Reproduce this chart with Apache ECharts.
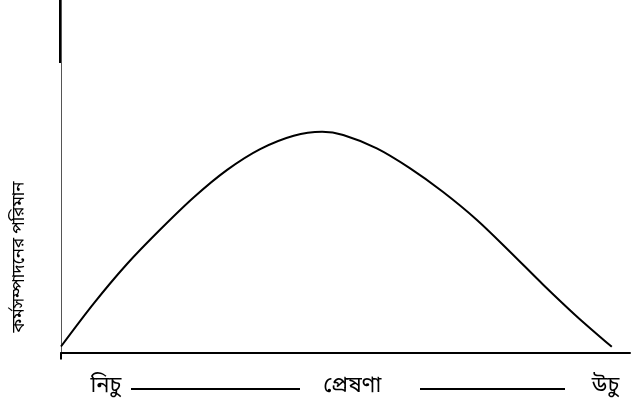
<!DOCTYPE html>
<html>
<head>
<meta charset="utf-8">
<script src="https://cdn.jsdelivr.net/npm/echarts@6/dist/echarts.min.js"></script>
<style>
    html, body { margin: 0; padding: 0; background: #fff; }
    #chart { width: 631px; height: 412px; }
</style>
</head>
<body>
<div id="chart"></div>
<script>
    // প্রেষণা (x) বনাম কর্মসম্পাদনের পরিমান (y)
    const motivation = [0, 5.8, 11.6, 17.4, 23.4, 29.2, 35.0, 40.9, 45.9, 49.6, 55.5, 61.3, 67.1, 73.1, 78.9, 84.7, 90.6, 96.8]
    const performance = [1.7, 14.0, 25.1, 34.8, 44.1, 51.8, 57.7, 61.5, 62.6, 61.7, 57.9, 52.3, 45.6, 37.6, 28.6, 19.3, 10.3, 1.6]
    const xLabelPos = [7.9, 51.2, 95.7]
    const xLabelText = ['নিচু', 'প্রেষণা', 'উচু']
    const yTitle = 'কর্মসম্পাদনের পরিমান'

    const bnFont = '"Noto Sans Bengali", "Lohit Bengali", "Noto Sans", sans-serif'

    let myChart = echarts.init(document.getElementById('chart'))
    myChart.setOption({
        animation: false,
        grid: { left: 61, right: 1, top: 0, bottom: 59.5 },
        xAxis: {
            type: 'value',
            min: 0,
            max: 100,
            splitLine: { show: false },
            axisLine: { show: true, lineStyle: { color: '#000', width: 2 } },
            axisTick: { show: true, customValues: [0], length: 7, lineStyle: { color: '#000', width: 2 } },
            axisLabel: {
                customValues: xLabelPos,
                formatter: function (v) {
                    let i = xLabelPos.indexOf(v)
                    return i >= 0 ? xLabelText[i] : ''
                },
                margin: 24,
                color: '#000',
                fontSize: 22,
                fontFamily: bnFont
            }
        },
        yAxis: {
            type: 'value',
            min: 0,
            max: 100,
            splitLine: { show: false },
            axisLine: { show: true, lineStyle: { color: '#555', width: 1 } },
            axisTick: { show: false },
            axisLabel: { show: false }
        },
        graphic: [
            // y অক্ষের উপরের মোটা অংশ
            { type: 'rect', shape: { x: 59, y: 0, width: 3, height: 63 }, style: { fill: '#000' } },
            // লেবেলের মাঝের রেখা
            { type: 'line', shape: { x1: 131, y1: 389, x2: 300, y2: 389 }, style: { stroke: '#000', lineWidth: 2 } },
            { type: 'line', shape: { x1: 420, y1: 389, x2: 565, y2: 389 }, style: { stroke: '#000', lineWidth: 2 } },
            {
                type: 'text',
                x: 21,
                y: 257,
                rotation: Math.PI / 2,
                style: {
                    text: yTitle,
                    fill: '#000',
                    font: '17px ' + bnFont,
                    align: 'center',
                    verticalAlign: 'middle'
                }
            }
        ],
        series: [{
            type: 'line',
            data: motivation.map((x, i) => [x, performance[i]]),
            smooth: 0.3,
            showSymbol: false,
            lineStyle: { color: '#000', width: 2 }
        }]
    })
</script>
</body>
</html>
